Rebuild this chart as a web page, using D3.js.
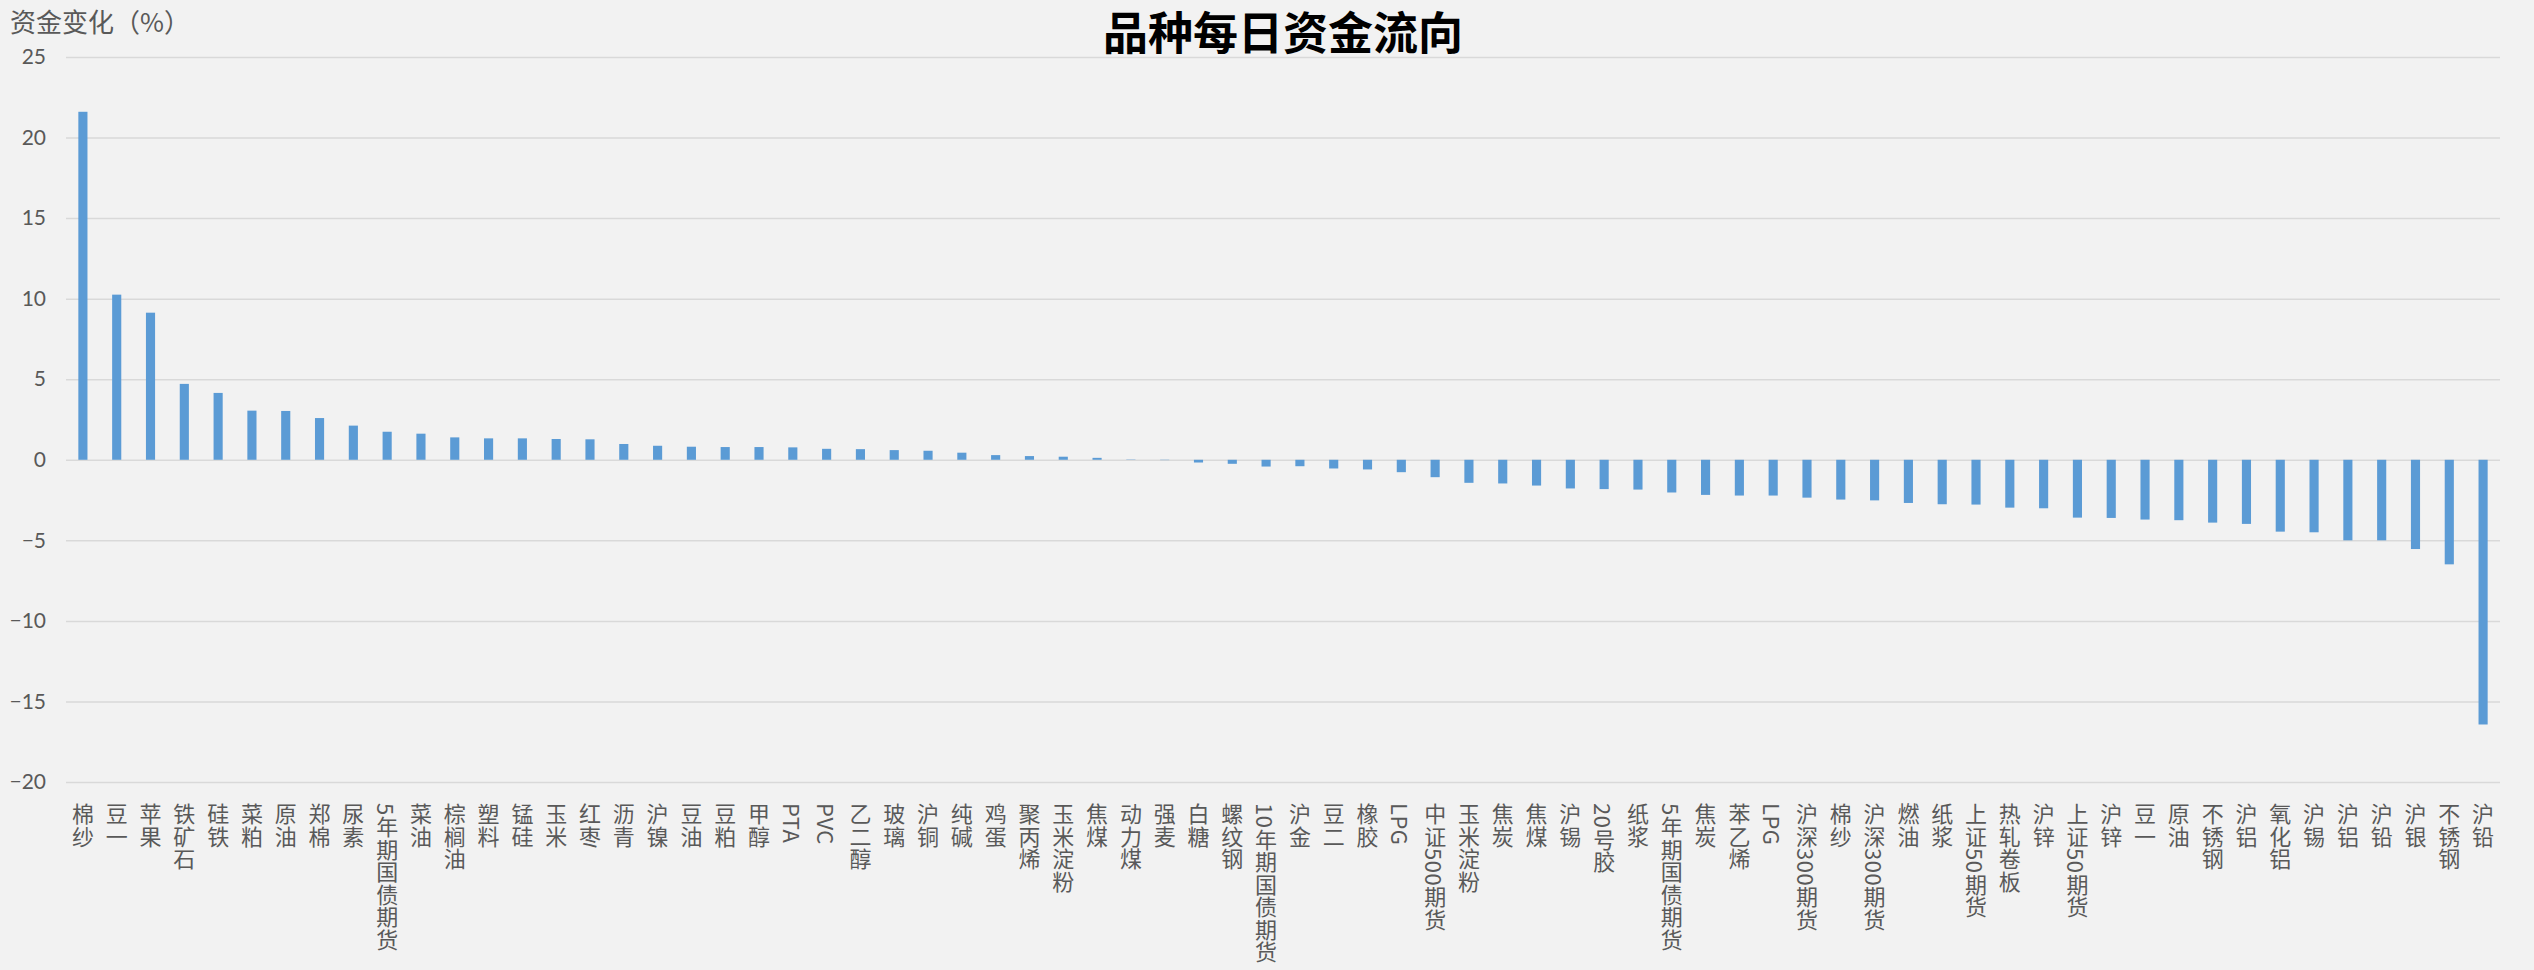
<!DOCTYPE html>
<html>
<head>
<meta charset="utf-8">
<script src="https://cdn.jsdelivr.net/npm/d3@7/dist/d3.min.js"></script>
<style>
	body { margin: 0; background: #f2f2f2; }
	text { font-family: "Noto Sans CJK SC", "Noto Sans", sans-serif; }
</style>
</head>
<body>
<svg id="chart"></svg>
<script>
var WIDTH = 2534
var HEIGHT = 970

// categories, in chart order (left to right)
var categories = [
	"棉纱", "豆一", "苹果", "铁矿石", "硅铁", "菜粕", "原油", "郑棉", "尿素", "5年期国债期货",
	"菜油", "棕榈油", "塑料", "锰硅", "玉米", "红枣", "沥青", "沪镍", "豆油", "豆粕",
	"甲醇", "PTA", "PVC", "乙二醇", "玻璃", "沪铜", "纯碱", "鸡蛋", "聚丙烯", "玉米淀粉",
	"焦煤", "动力煤", "强麦", "白糖", "螺纹钢", "10年期国债期货", "沪金", "豆二", "橡胶", "LPG",
	"中证500期货", "玉米淀粉", "焦炭", "焦煤", "沪锡", "20号胶", "纸浆", "5年期国债期货", "焦炭", "苯乙烯",
	"LPG", "沪深300期货", "棉纱", "沪深300期货", "燃油", "纸浆", "上证50期货", "热轧卷板", "沪锌", "上证50期货",
	"沪锌", "豆一", "原油", "不锈钢", "沪铝", "氧化铝", "沪锡", "沪铝", "沪铅", "沪银",
	"不锈钢", "沪铅"
]

// 资金变化 (%)
var values = [
	21.6, 10.25, 9.13, 4.71, 4.15, 3.05, 3.03, 2.59, 2.12, 1.74,
	1.62, 1.39, 1.33, 1.33, 1.29, 1.27, 0.98, 0.87, 0.81, 0.79,
	0.79, 0.77, 0.68, 0.66, 0.60, 0.56, 0.44, 0.29, 0.23, 0.19,
	0.12, 0.02, -0.02, -0.17, -0.25, -0.42, -0.40, -0.54, -0.60, -0.77,
	-1.08, -1.43, -1.47, -1.60, -1.78, -1.82, -1.85, -2.03, -2.18, -2.22,
	-2.22, -2.35, -2.47, -2.52, -2.68, -2.76, -2.78, -2.97, -3.01, -3.59,
	-3.61, -3.71, -3.75, -3.90, -3.98, -4.46, -4.50, -5.00, -5.00, -5.54,
	-6.49, -16.43
]

var yTicks = [-20, -15, -10, -5, 0, 5, 10, 15, 20, 25]

var TITLE = "品种每日资金流向"
var Y_TITLE = "资金变化（%）"

var PLOT_LEFT = 66
var PLOT_RIGHT = 2500
var PLOT_TOP = 57
var PLOT_BOTTOM = 782

var data = categories.map(function(c, i){ return { key: i, label: c, value: values[i] } })

var svg = d3.select("#chart")
	.attr("width", WIDTH)
	.attr("height", HEIGHT)

svg.append("rect")
	.attr("width", WIDTH)
	.attr("height", HEIGHT)
	.attr("fill", "#f2f2f2")

var x = d3.scaleBand()
	.domain(data.map(function(d){ return d.key }))
	.range([PLOT_LEFT, PLOT_RIGHT])
	.padding(0)

var y = d3.scaleLinear()
	.domain([-20, 25])
	.range([PLOT_BOTTOM, PLOT_TOP])

// gridlines + tick labels
var yAxis = svg.append("g")
	.attr("class", "y axis")
	.attr("transform", "translate(" + PLOT_LEFT + ",0)")
	.call(d3.axisLeft(y)
		.tickValues(yTicks)
		.tickSize(-(PLOT_RIGHT - PLOT_LEFT))
		.tickPadding(20)
		.tickFormat(d3.format("d")))

yAxis.select(".domain").remove()
yAxis.selectAll(".tick line")
	.attr("stroke", "#d9d9d9")
	.attr("stroke-width", 1.5)
yAxis.selectAll(".tick text")
	.attr("fill", "#595959")
	.style("font-size", "21px")
	.style("font-family", "Lato, 'Noto Sans CJK SC', sans-serif")

// bars
var barWidth = x.bandwidth() * 0.27

svg.selectAll(".bar")
	.data(data)
	.enter()
	.append("rect")
	.attr("class", "bar")
	.attr("x", function(d){ return x(d.key) + (x.bandwidth() - barWidth) / 2 })
	.attr("width", barWidth)
	.attr("y", function(d){ return y(Math.max(0, d.value)) })
	.attr("height", function(d){ return Math.abs(y(d.value) - y(0)) })
	.attr("fill", "#5b9bd5")

// category labels, vertical text
svg.selectAll(".catLabel")
	.data(data)
	.enter()
	.append("text")
	.attr("class", "catLabel")
	.attr("x", function(d){ return x(d.key) + x.bandwidth() / 2 })
	.attr("y", PLOT_BOTTOM + 21)
	.style("writing-mode", "vertical-rl")
	.style("letter-spacing", "0.5px")
	.attr("text-anchor", "start")
	.attr("fill", "#595959")
	.style("font-size", "22px")
	.text(function(d){ return d.label })

// titles
svg.append("text")
	.attr("x", (PLOT_LEFT + PLOT_RIGHT) / 2)
	.attr("y", 30)
	.attr("dominant-baseline", "central")
	.attr("text-anchor", "middle")
	.attr("fill", "#000")
	.style("font-size", "45px")
	.style("font-weight", "bold")
	.text(TITLE)

svg.append("text")
	.attr("x", 10)
	.attr("y", 32)
	.attr("fill", "#595959")
	.style("font-size", "26px")
	.text(Y_TITLE)
</script>
</body>
</html>
